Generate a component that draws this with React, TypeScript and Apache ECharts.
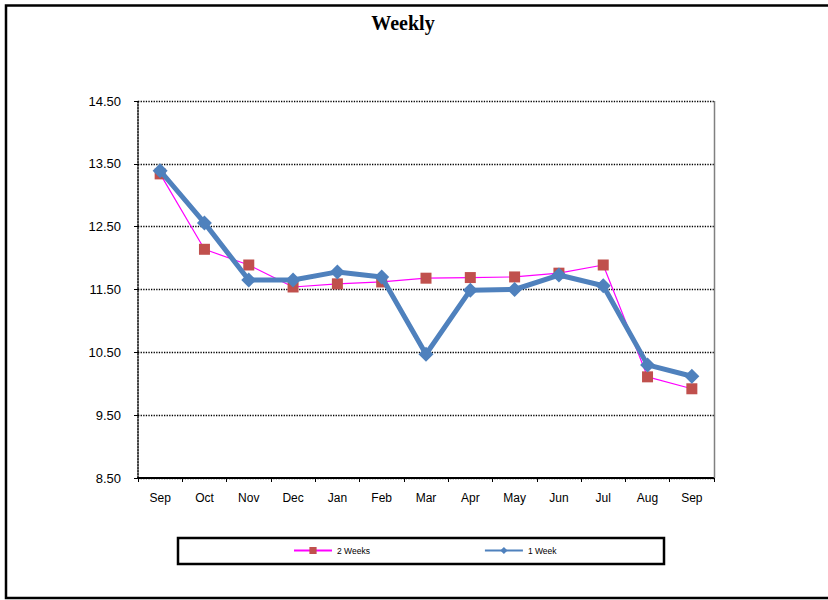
import React, { useEffect, useRef } from "react";
import * as echarts from "echarts";

const categories = ["Sep", "Oct", "Nov", "Dec", "Jan", "Feb", "Mar", "Apr", "May", "Jun", "Jul", "Aug", "Sep"];
const twoWeeks = [13.34, 12.14, 11.89, 11.54, 11.59, 11.62, 11.68, 11.69, 11.7, 11.76, 11.89, 10.11, 9.92];
const oneWeek = [13.39, 12.56, 11.65, 11.65, 11.78, 11.7, 10.47, 11.49, 11.5, 11.73, 11.56, 10.3, 10.12];
const yMin = 8.5;
const yMax = 14.5;
const yStep = 1;

export default function App() {
  const ref = useRef<HTMLDivElement>(null);
  useEffect(() => {
    if (!ref.current) return;
    const chart = echarts.init(ref.current, null, { renderer: "svg" });
    const font = "Liberation Sans, Arial, sans-serif";
    chart.setOption({
      animation: false,
      backgroundColor: "#fff",
      title: {
        text: "Weekly",
        left: 398,
        textAlign: "center",
        top: 8,
        textStyle: { fontFamily: "Liberation Serif, Times New Roman, serif", fontWeight: "bold", fontSize: 20, color: "#000" },
      },
      grid: { left: 138, top: 101, width: 576, height: 377, containLabel: false },
      legend: {
        left: 293,
        top: 546,
        padding: 0,
        itemWidth: 38,
        itemHeight: 9,
        itemGap: 114,
        textStyle: { fontFamily: font, fontSize: 8.5, color: "#000" },
        data: ["2 Weeks", "1 Week"],
      },
      xAxis: {
        type: "category",
        data: categories,
        boundaryGap: true,
        axisLine: { lineStyle: { color: "#000", width: 2 } },
        axisTick: { show: true, inside: false, length: 4, lineStyle: { color: "#000" } },
        axisLabel: { fontFamily: font, fontSize: 12, color: "#000", margin: 14 },
        splitLine: { show: false },
      },
      yAxis: {
        type: "value",
        min: yMin,
        max: yMax,
        interval: yStep,
        axisLine: { show: true, lineStyle: { color: "#000", type: "dotted", width: 1.5 } },
        axisTick: { show: true, length: 4, lineStyle: { color: "#000" } },
        axisLabel: { fontFamily: font, fontSize: 13, color: "#000", margin: 17, formatter: (v: number) => v.toFixed(2) },
        splitLine: { show: true, lineStyle: { color: "#000", type: "dotted", width: 1.3 } },
      },
      series: [
        {
          name: "2 Weeks",
          type: "line",
          data: twoWeeks,
          symbol: "rect",
          symbolSize: 11,
          lineStyle: { color: "#FF00FF", width: 1.2 },
          itemStyle: { color: "#C0504D" },
          z: 2,
        },
        {
          name: "1 Week",
          type: "line",
          data: oneWeek,
          symbol: "diamond",
          symbolSize: 15,
          lineStyle: { color: "#4F81BD", width: 5 },
          itemStyle: { color: "#4F81BD" },
          z: 3,
        },
      ],
      graphic: [
        { type: "line", shape: { x1: 714.5, y1: 101, x2: 714.5, y2: 478 }, style: { stroke: "#808080", lineWidth: 1.5 }, z: 1 },
        { type: "rect", shape: { x: 178, y: 538, width: 486, height: 26 }, style: { fill: "none", stroke: "#000", lineWidth: 2.5 } },
        { type: "rect", shape: { x: 6, y: 5.5, width: 830, height: 592.5 }, style: { fill: "none", stroke: "#000", lineWidth: 2.5 } },
      ],
    });
    return () => chart.dispose();
  }, []);
  return <div ref={ref} style={{ position: "absolute", left: 0, top: 0, width: 828, height: 600 }} />;
}
